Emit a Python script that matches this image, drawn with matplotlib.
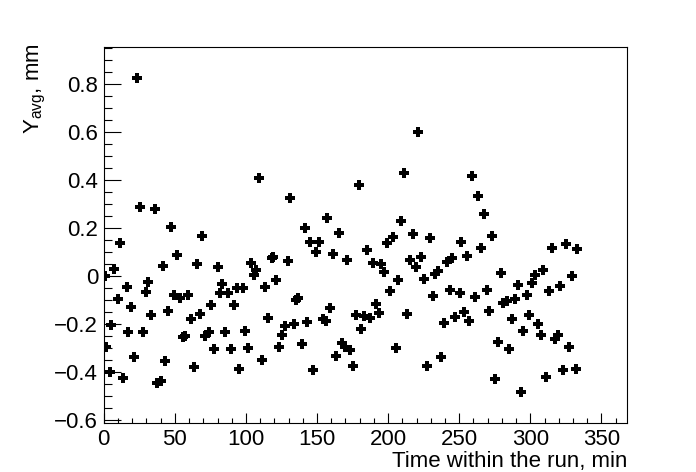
import matplotlib
matplotlib.use("Agg")
import matplotlib.pyplot as plt
from matplotlib.ticker import MultipleLocator

plt.rcParams['font.family'] = ['Liberation Sans', 'DejaVu Sans']
plt.rcParams['mathtext.fontset'] = 'custom'
plt.rcParams['mathtext.rm'] = 'Liberation Sans'
plt.rcParams['mathtext.it'] = 'Liberation Sans'

# Time within the run (min)
time_min = [
    0.5, 1.3, 4.2, 5.3, 7.4, 9.8, 11.6, 13.5, 16.1, 17.2,
    19.3, 21.2, 23.6, 25.7, 27.8, 29.9, 31.1, 33.2, 35.8, 37.6,
    40.0, 41.9, 43.3, 45.2, 47.5, 49.6, 51.7, 53.4, 55.7, 57.3,
    59.2, 61.6, 63.7, 65.6, 67.9, 69.3, 71.4, 73.8, 75.6, 77.5,
    80.0, 81.4, 83.2, 84.9, 87.6, 89.7, 91.8, 93.5, 95.3, 97.9,
    99.5, 101.7, 103.6, 105.9, 107.1, 109.4, 111.5, 113.6, 115.7, 118.0,
    119.2, 121.4, 123.5, 125.6, 127.8, 129.8, 131.0, 133.5, 135.2, 136.8,
    139.6, 141.8, 143.2, 144.7, 147.4, 149.4, 151.4, 154.1, 156.3, 157.2,
    159.3, 161.5, 163.4, 165.6, 167.7, 169.7, 171.3, 173.4, 175.3, 177.4,
    179.8, 181.2, 183.2, 185.3, 187.3, 189.5, 191.7, 193.8, 195.2, 197.3,
    199.2, 201.5, 203.7, 205.7, 207.2, 209.3, 211.4, 213.5, 215.4, 217.7,
    219.3, 221.3, 223.2, 225.5, 227.6, 229.6, 231.8, 233.0, 235.3, 237.2,
    239.3, 241.2, 243.6, 245.2, 247.3, 250.2, 251.1, 253.2, 255.7, 257.1,
    259.3, 261.1, 263.3, 265.4, 267.6, 269.8, 271.2, 273.3, 275.2, 277.5,
    279.7, 281.1, 283.4, 285.3, 287.4, 289.3, 291.6, 293.6, 295.1, 297.5,
    299.3, 301.0, 303.4, 305.7, 307.6, 309.2, 311.3, 313.4, 315.5, 317.4,
    319.8, 320.9, 323.3, 325.4, 327.5, 329.4, 332.0, 332.9,
]

# Average Y position (mm)
y_avg = [
    0.000, -0.298, -0.401, -0.205, 0.027, -0.097, 0.135, -0.428, -0.047, -0.233,
    -0.130, -0.340, 0.827, 0.288, -0.233, -0.067, -0.026, -0.164, 0.279, -0.448,
    -0.439, 0.042, -0.355, -0.148, 0.204, -0.080, 0.088, -0.094, -0.257, -0.251,
    -0.078, -0.178, -0.382, 0.048, -0.160, 0.168, -0.250, -0.233, -0.122, -0.307,
    0.036, -0.073, -0.035, -0.233, -0.073, -0.307, -0.122, -0.051, -0.390, -0.051,
    -0.229, -0.303, 0.053, 0.003, 0.025, 0.406, -0.353, -0.047, -0.176, 0.076,
    0.080, -0.018, -0.297, -0.248, -0.210, 0.060, 0.323, -0.202, -0.101, -0.092,
    -0.286, 0.198, -0.194, 0.139, -0.394, 0.100, 0.143, -0.181, -0.188, 0.243,
    -0.136, 0.093, -0.336, 0.180, -0.282, -0.296, 0.068, -0.310, -0.378, -0.162,
    0.377, -0.223, -0.168, 0.107, -0.175, 0.055, -0.119, -0.157, 0.050, 0.018,
    0.136, -0.062, 0.160, -0.301, -0.019, 0.230, 0.427, -0.160, 0.068, 0.173,
    0.037, 0.601, 0.077, -0.015, -0.378, 0.158, -0.085, 0.006, 0.021, -0.339,
    -0.198, 0.058, -0.061, 0.075, -0.173, -0.073, 0.139, -0.152, 0.083, -0.188,
    0.415, -0.090, 0.331, 0.114, 0.257, -0.060, -0.146, 0.165, -0.429, -0.278,
    0.013, -0.115, -0.104, -0.307, -0.182, -0.098, -0.039, -0.486, -0.229, -0.078,
    -0.164, -0.032, 0.003, -0.201, -0.248, 0.024, -0.424, -0.065, 0.118, -0.265,
    -0.247, -0.043, -0.393, 0.132, -0.298, 0.001, -0.390, 0.110,
]

x_title = "Time within the run, min"
y_title = r"Y$_{\mathregular{avg}}$, mm"

W, H = 696, 472
fig = plt.figure(figsize=(W / 100, H / 100), dpi=100)
L, R, T, B = 103.8, 627.0, 47.3, 423.3
ax = fig.add_axes([L / W, 1 - B / H, (R - L) / W, (B - T) / H])

ax.plot(time_min, y_avg, linestyle='none', marker='P', markersize=7.9,
        markeredgewidth=0, color='black')

ax.set_xlim(0, 368)
ax.set_ylim(-0.615, 0.953)

ax.xaxis.set_major_locator(MultipleLocator(50))
ax.xaxis.set_minor_locator(MultipleLocator(10))
ax.yaxis.set_major_locator(MultipleLocator(0.2))
ax.yaxis.set_minor_locator(MultipleLocator(0.05))

ax.tick_params(axis='both', which='both', direction='in', top=False, right=False,
               width=0.8, colors='black', labelsize=16)
ax.tick_params(axis='x', which='major', length=7.2, pad=4)
ax.tick_params(axis='x', which='minor', length=3.6)
ax.tick_params(axis='y', which='major', length=12, pad=4)
ax.tick_params(axis='y', which='minor', length=5.8)

def fmt(v, pos):
    if abs(v) < 1e-9:
        return "0"
    return ("%.1f" % v).replace('-', '\u2212')

ax.yaxis.set_major_formatter(plt.FuncFormatter(fmt))
ax.xaxis.set_major_formatter(plt.FuncFormatter(lambda v, p: "%d" % round(v)))

for s in ax.spines.values():
    s.set_linewidth(0.8)

fig.text(R / W, 1 - 466.5 / H, x_title, ha='right', va='baseline', fontsize=16)
fig.text(35 / W, 1 - 43 / H, y_title, ha='center', va='top', rotation=90, fontsize=16)

fig.savefig("out.png", dpi=100)
